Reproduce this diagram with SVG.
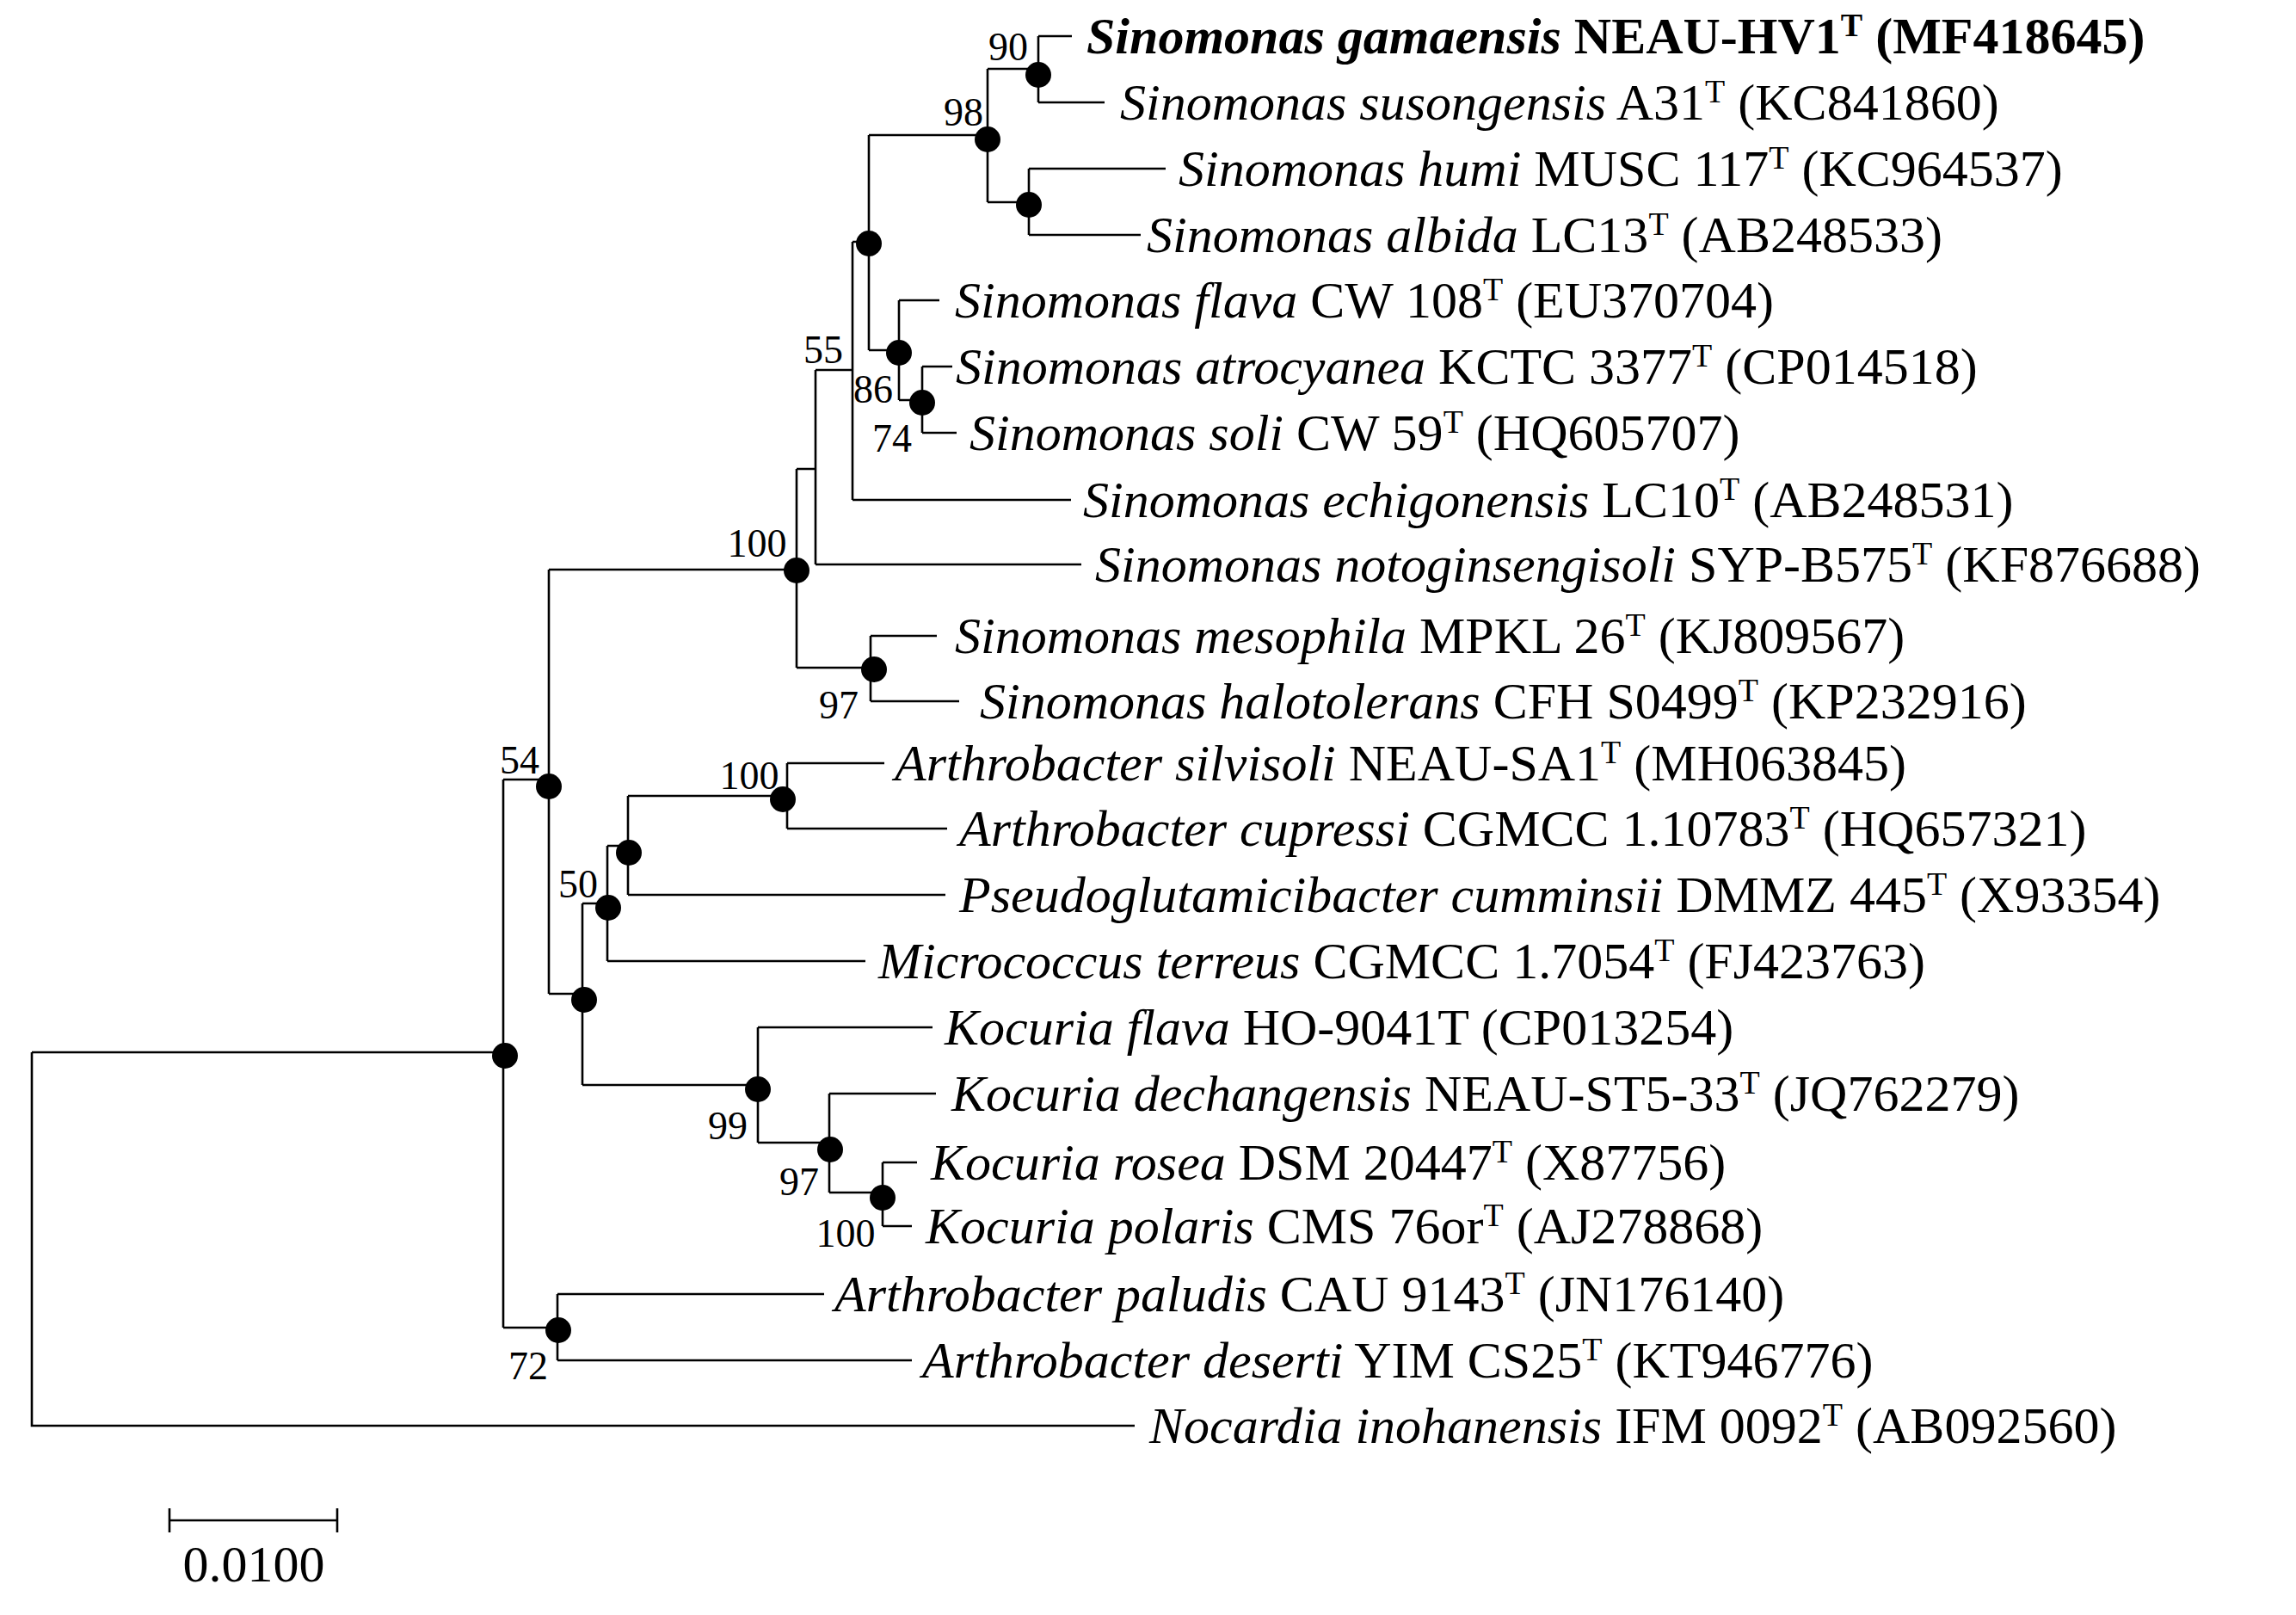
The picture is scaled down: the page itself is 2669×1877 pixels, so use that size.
<svg xmlns="http://www.w3.org/2000/svg" width="2669" height="1877" viewBox="0 0 2669 1877">
<style>
.e{fill:none;stroke:#000;stroke-width:2.6}
.d{fill:#000}
.t{font-family:"Liberation Serif",serif;font-size:60px;fill:#000}
.i{font-style:italic}
.b{font-family:"Liberation Serif",serif;font-size:46px;fill:#000}
.s{font-size:38px}
</style>
<rect width="2669" height="1877" fill="#fff"/>
<g id="connectors">
<path class="e" d="M37,1223V1657H1319 M37,1223H585 M585,906V1543 M585,906H638 M585,1543H648 M648,1504V1581 M648,1504H958 M648,1581H1060 M638,662V1155 M638,1155H677 M677,1050V1261 M677,1050H706 M706,983V1117 M706,1117H1006 M706,983H730 M730,925V1040 M730,1040H1099 M730,925H915 M915,887V963 M915,887H1028 M915,963H1101 M677,1261H881 M881,1194V1328 M881,1194H1084 M881,1328H964 M964,1271V1386 M964,1271H1088 M964,1386H1026 M1026,1351V1425 M1026,1351H1066 M1026,1425H1060 M638,662H926 M926,545V776 M926,776H1012 M1012,739V815 M1012,739H1089 M1012,815H1115 M926,545H948 M948,430V656 M948,656H1257 M948,430H991 M991,281V581 M991,581H1245 M991,281H1010 M1010,157V407 M1010,407H1045 M1045,349V465 M1045,349H1092 M1045,465H1072 M1072,426V503 M1072,426H1107 M1072,503H1112 M1010,157H1148 M1148,80V235 M1148,80H1207 M1207,42V119 M1207,42H1246 M1207,119H1284 M1148,235H1196 M1196,196V273 M1196,196H1355 M1196,273H1326 M197,1767H392 M197,1753V1781 M392,1753V1781"/>
<circle class="d" cx="587" cy="1227" r="15"/>
<circle class="d" cx="638" cy="914" r="15"/>
<circle class="d" cx="679" cy="1162" r="15"/>
<circle class="d" cx="707" cy="1055" r="15"/>
<circle class="d" cx="731" cy="991" r="15"/>
<circle class="d" cx="910" cy="929" r="15"/>
<circle class="d" cx="881" cy="1266" r="15"/>
<circle class="d" cx="965" cy="1336" r="15"/>
<circle class="d" cx="1026" cy="1392" r="15"/>
<circle class="d" cx="649" cy="1546" r="15"/>
<circle class="d" cx="926" cy="663" r="15"/>
<circle class="d" cx="1016" cy="778" r="15"/>
<circle class="d" cx="1010" cy="283" r="15"/>
<circle class="d" cx="1045" cy="410" r="15"/>
<circle class="d" cx="1072" cy="468" r="15"/>
<circle class="d" cx="1148" cy="162" r="15"/>
<circle class="d" cx="1207" cy="87" r="15"/>
<circle class="d" cx="1196" cy="238" r="15"/>
</g>
<g id="bootstrap">
<text class="b" x="1172" y="70" text-anchor="middle">90</text>
<text class="b" x="1120" y="146" text-anchor="middle">98</text>
<text class="b" x="957" y="422" text-anchor="middle">55</text>
<text class="b" x="1015" y="468" text-anchor="middle">86</text>
<text class="b" x="1037" y="525" text-anchor="middle">74</text>
<text class="b" x="880" y="647" text-anchor="middle">100</text>
<text class="b" x="975" y="835" text-anchor="middle">97</text>
<text class="b" x="604" y="899" text-anchor="middle">54</text>
<text class="b" x="871" y="917" text-anchor="middle">100</text>
<text class="b" x="672" y="1043" text-anchor="middle">50</text>
<text class="b" x="846" y="1324" text-anchor="middle">99</text>
<text class="b" x="929" y="1389" text-anchor="middle">97</text>
<text class="b" x="983" y="1449" text-anchor="middle">100</text>
<text class="b" x="614" y="1603" text-anchor="middle">72</text>
<text class="t" x="295" y="1838" text-anchor="middle">0.0100</text>
</g>
<g id="n1"><text class="t" x="1263" y="62" font-weight="bold"><tspan class="i">Sinomonas gamaensis</tspan> NEAU-HV1<tspan class="s" dy="-20">T</tspan><tspan dy="20"> (MF418645)</tspan></text></g>
<g id="n2"><text class="t" x="1302" y="139"><tspan class="i">Sinomonas susongensis</tspan> A31<tspan class="s" dy="-20">T</tspan><tspan dy="20"> (KC841860)</tspan></text></g>
<g id="n3"><text class="t" x="1370" y="216"><tspan class="i">Sinomonas humi</tspan> MUSC 117<tspan class="s" dy="-20">T</tspan><tspan dy="20"> (KC964537)</tspan></text></g>
<g id="n4"><text class="t" x="1333" y="293"><tspan class="i">Sinomonas albida</tspan> LC13<tspan class="s" dy="-20">T</tspan><tspan dy="20"> (AB248533)</tspan></text></g>
<g id="n5"><text class="t" x="1110" y="369"><tspan class="i">Sinomonas flava</tspan> CW 108<tspan class="s" dy="-20">T</tspan><tspan dy="20"> (EU370704)</tspan></text></g>
<g id="n6"><text class="t" x="1111" y="446"><tspan class="i">Sinomonas atrocyanea</tspan> KCTC 3377<tspan class="s" dy="-20">T</tspan><tspan dy="20"> (CP014518)</tspan></text></g>
<g id="n7"><text class="t" x="1127" y="523"><tspan class="i">Sinomonas soli</tspan> CW 59<tspan class="s" dy="-20">T</tspan><tspan dy="20"> (HQ605707)</tspan></text></g>
<g id="n8"><text class="t" x="1259" y="601"><tspan class="i">Sinomonas echigonensis</tspan> LC10<tspan class="s" dy="-20">T</tspan><tspan dy="20"> (AB248531)</tspan></text></g>
<g id="n9"><text class="t" x="1273" y="676"><tspan class="i">Sinomonas notoginsengisoli</tspan> SYP-B575<tspan class="s" dy="-20">T</tspan><tspan dy="20"> (KF876688)</tspan></text></g>
<g id="n10"><text class="t" x="1110" y="759"><tspan class="i">Sinomonas mesophila</tspan> MPKL 26<tspan class="s" dy="-20">T</tspan><tspan dy="20"> (KJ809567)</tspan></text></g>
<g id="n11"><text class="t" x="1139" y="835"><tspan class="i">Sinomonas halotolerans</tspan> CFH S0499<tspan class="s" dy="-20">T</tspan><tspan dy="20"> (KP232916)</tspan></text></g>
<g id="n12"><text class="t" x="1040" y="907"><tspan class="i">Arthrobacter silvisoli</tspan> NEAU-SA1<tspan class="s" dy="-20">T</tspan><tspan dy="20"> (MH063845)</tspan></text></g>
<g id="n13"><text class="t" x="1115" y="983"><tspan class="i">Arthrobacter cupressi</tspan> CGMCC 1.10783<tspan class="s" dy="-20">T</tspan><tspan dy="20"> (HQ657321)</tspan></text></g>
<g id="n14"><text class="t" x="1115" y="1060"><tspan class="i">Pseudoglutamicibacter cumminsii</tspan> DMMZ 445<tspan class="s" dy="-20">T</tspan><tspan dy="20"> (X93354)</tspan></text></g>
<g id="n15"><text class="t" x="1021" y="1137"><tspan class="i">Micrococcus terreus</tspan> CGMCC 1.7054<tspan class="s" dy="-20">T</tspan><tspan dy="20"> (FJ423763)</tspan></text></g>
<g id="n16"><text class="t" x="1098" y="1214"><tspan class="i">Kocuria flava</tspan> HO-9041T (CP013254)</text></g>
<g id="n17"><text class="t" x="1106" y="1291"><tspan class="i">Kocuria dechangensis</tspan> NEAU-ST5-33<tspan class="s" dy="-20">T</tspan><tspan dy="20"> (JQ762279)</tspan></text></g>
<g id="n18"><text class="t" x="1082" y="1371"><tspan class="i">Kocuria rosea</tspan> DSM 20447<tspan class="s" dy="-20">T</tspan><tspan dy="20"> (X87756)</tspan></text></g>
<g id="n19"><text class="t" x="1076" y="1445"><tspan class="i">Kocuria polaris</tspan> CMS 76or<tspan class="s" dy="-20">T</tspan><tspan dy="20"> (AJ278868)</tspan></text></g>
<g id="n20"><text class="t" x="970" y="1524"><tspan class="i">Arthrobacter paludis</tspan> CAU 9143<tspan class="s" dy="-20">T</tspan><tspan dy="20"> (JN176140)</tspan></text></g>
<g id="n21"><text class="t" x="1072" y="1601"><tspan class="i">Arthrobacter deserti</tspan> YIM CS25<tspan class="s" dy="-20">T</tspan><tspan dy="20"> (KT946776)</tspan></text></g>
<g id="n22"><text class="t" x="1336" y="1677"><tspan class="i">Nocardia inohanensis</tspan> IFM 0092<tspan class="s" dy="-20">T</tspan><tspan dy="20"> (AB092560)</tspan></text></g>
</svg>
